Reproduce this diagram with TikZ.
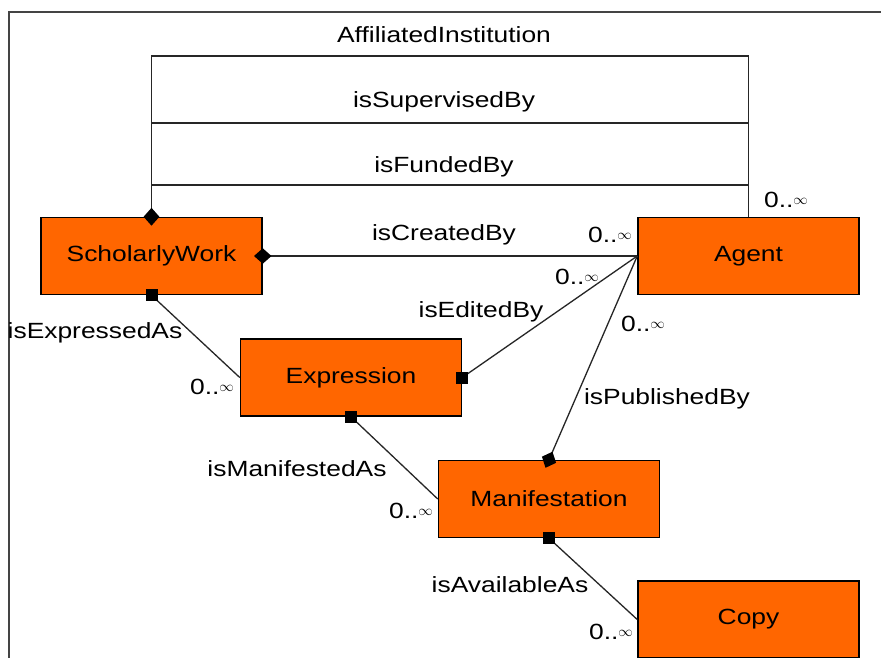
\documentclass[tikz,border=0pt]{standalone}
\usepackage{fontspec}
\setmainfont[FakeStretch=1.2]{Liberation Sans}
\usepackage{tikz}
\usetikzlibrary{shapes.geometric}
\definecolor{clsorange}{HTML}{FF6600}
\definecolor{framegray}{HTML}{444444}
\tikzset{cls/.style={draw=black,line width=1.5pt,fill=clsorange,minimum width=221pt,minimum height=77pt,inner sep=0pt},
  rel/.style={draw=black!85,line width=1.3pt},
  diamark/.style={diamond,fill=black,draw=none,inner sep=0pt,minimum width=18pt,minimum height=16pt,sloped},
  sqmark/.style={rectangle,fill=black,draw=none,inner sep=0pt,minimum size=12pt}}
\newcommand{\many}{0..\raisebox{3pt}{\fontsize{15}{15}\selectfont$\infty$}}
\begin{document}
\begin{tikzpicture}[x=1pt,y=-1pt,font=\fontsize{22}{26}\selectfont]
              \clip(0,0)rectangle(881,657);
              \fill[white](0,0)rectangle(881,657);
              \draw[framegray,line width=2pt](8.5,12)rectangle(900,700);
              % classes
              \node[cls](sw)at(151.5,256){ScholarlyWork};
              \node[cls](ag)at(748.5,256){Agent};
              \node[cls](ex)at(351,377.5){Expression};
              \node[cls](ma)at(549,499){Manifestation};
              \node[cls](co)at(748.5,619.5){Copy};
              % relations over the top
              \draw[rel](sw.north)--(sw.north|-0,56)-|(ag.north);
              \draw[rel](sw.north|-0,123)--(ag.north|-0,123);
              \draw[rel](sw.north|-0,185)--(ag.north|-0,185);
              \node[diamark,rotate=90]at(sw.north){};
              \node(affil)at(444,35){AffiliatedInstitution};
              \node(superv)at(444,102){isSupervisedBy};
              \node(funded)at(444,167){isFundedBy};
              \node(mtop)at(786,200){\many};
              % other relations
              \draw[rel](sw.east)--(ag.west)node[pos=0,diamark]{};
              \draw[rel](sw.south)--(ex.west)node[pos=0,sqmark]{};
              \draw[rel](ag.west)--(ex.east)node[pos=1,sqmark]{};
              \draw[rel](ag.west)--(ma.north)node[pos=1,diamark]{};
              \draw[rel](ex.south)--(ma.west)node[pos=0,sqmark]{};
              \draw[rel](ma.south)--(co.west)node[pos=0,sqmark]{};
              \node(created)at(444,235){isCreatedBy};
              \node(expressed)at(95,333){isExpressedAs};
              \node(edited)at(481,312){isEditedBy};
              \node(published)at(667,399){isPublishedBy};
              \node(manifested)at(297,469){isManifestedAs};
              \node(available)at(510,585){isAvailableAs};
              \node(mcreated)at(610,235){\many};
              \node(medited)at(577,277){\many};
              \node(mpublished)at(643,324){\many};
              \node(mexpressed)at(212,387){\many};
              \node(mmanifested)at(411,511){\many};
              \node(mavailable)at(611,632){\many};
            \end{tikzpicture}
\end{document}
